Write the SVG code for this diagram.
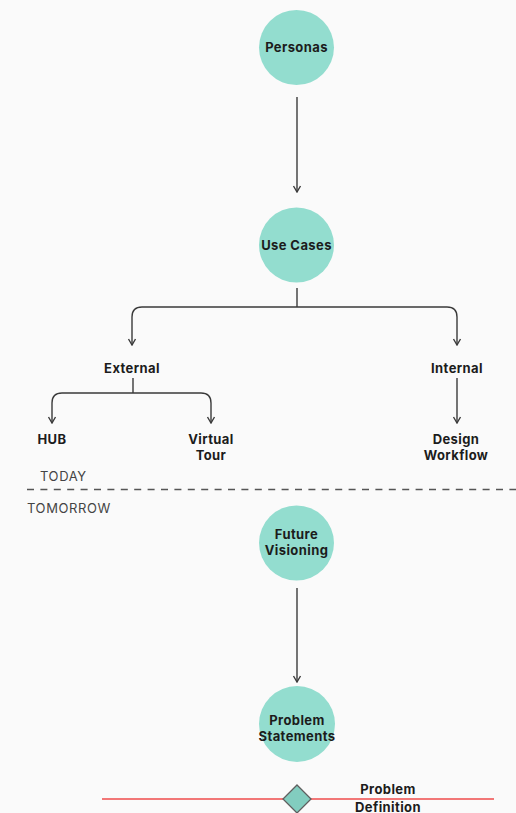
<svg xmlns="http://www.w3.org/2000/svg" width="516" height="813" viewBox="0 0 516 813">
  <style>
    .bg { fill: #fafafa; }
    .hub { fill: #93ddcf; }
    .lbl { font-family: "Inter", "Noto Sans", "Liberation Sans", sans-serif; font-weight: 700; font-size: 13px; letter-spacing: 0.4px; fill: #1c1c1c; text-anchor: middle; }
    .cap { font-family: "Inter", "Noto Sans", "Liberation Sans", sans-serif; font-weight: 400; font-size: 13px; letter-spacing: 0.6px; fill: #444; }
    .wire { fill: none; stroke: #3a3a3a; stroke-width: 1.4; }
  </style>
  <defs>
    <!-- open chevron arrowhead, drawn pointing along +x -->
    <marker id="arrow" viewBox="0 0 10 10" refX="9" refY="5" markerWidth="10" markerHeight="10" markerUnits="userSpaceOnUse" orient="auto">
      <path d="M3 1.5 L9 5 L3 8.5" fill="none" stroke="#3a3a3a" stroke-width="1.4"/>
    </marker>
  </defs>

  <rect class="bg" x="0" y="0" width="516" height="813"/>

  <!-- connectors -->
  <g id="connectors">
    <path class="wire" d="M297 97 V192" marker-end="url(#arrow)"/>
    <path class="wire" d="M297 288 V307"/>
    <path class="wire" d="M297 307 H142 Q132 307 132 317 V345" marker-end="url(#arrow)"/>
    <path class="wire" d="M297 307 H447 Q457 307 457 317 V345" marker-end="url(#arrow)"/>
    <path class="wire" d="M133 378 V393"/>
    <path class="wire" d="M133 393 H62 Q52 393 52 403 V423" marker-end="url(#arrow)"/>
    <path class="wire" d="M133 393 H201 Q211 393 211 403 V423" marker-end="url(#arrow)"/>
    <path class="wire" d="M457 378 V423" marker-end="url(#arrow)"/>
    <path class="wire" d="M297 588 V682" marker-end="url(#arrow)"/>
  </g>

  <!-- timeline divider -->
  <g id="divider">
    <text class="cap" x="40" y="481">TODAY</text>
    <line x1="27" y1="489.5" x2="516" y2="489.5" stroke="#555" stroke-width="1.4" stroke-dasharray="7 6.4"/>
    <text class="cap" x="27" y="512.5">TOMORROW</text>
  </g>

  <g id="personas">
    <circle class="hub" cx="296.5" cy="47.5" r="37.5"/>
    <text class="lbl" x="296.5" y="52">Personas</text>
  </g>

  <g id="use-cases">
    <circle class="hub" cx="296.5" cy="245" r="37.5"/>
    <text class="lbl" x="296.5" y="249.5">Use Cases</text>
  </g>

  <g id="external">
    <text class="lbl" x="132" y="372.5">External</text>
  </g>

  <g id="internal">
    <text class="lbl" x="457" y="372.5">Internal</text>
  </g>

  <g id="hub-node">
    <text class="lbl" x="52" y="443.5">HUB</text>
  </g>

  <g id="virtual-tour">
    <text class="lbl" x="211" y="443.5">Virtual</text>
    <text class="lbl" x="211" y="459.5">Tour</text>
  </g>

  <g id="design-workflow">
    <text class="lbl" x="456" y="443.5">Design</text>
    <text class="lbl" x="456" y="459.5">Workflow</text>
  </g>

  <g id="future-visioning">
    <circle class="hub" cx="296.5" cy="543" r="37.5"/>
    <text class="lbl" x="296.5" y="539">Future</text>
    <text class="lbl" x="296.5" y="555">Visioning</text>
  </g>

  <g id="problem-statements">
    <circle class="hub" cx="297" cy="724" r="38"/>
    <text class="lbl" x="297" y="724.5">Problem</text>
    <text class="lbl" x="297" y="740.5">Statements</text>
  </g>

  <g id="problem-definition">
    <line x1="102" y1="799" x2="494" y2="799" stroke="#ef4b4b" stroke-width="1.5"/>
    <path d="M297 785 L311 799 L297 813 L283 799 Z" fill="#82cdbf" stroke="#5f5f5f" stroke-width="1.3"/>
    <text class="lbl" x="388" y="793.5">Problem</text>
    <text class="lbl" x="388" y="811.5">Definition</text>
  </g>
</svg>
